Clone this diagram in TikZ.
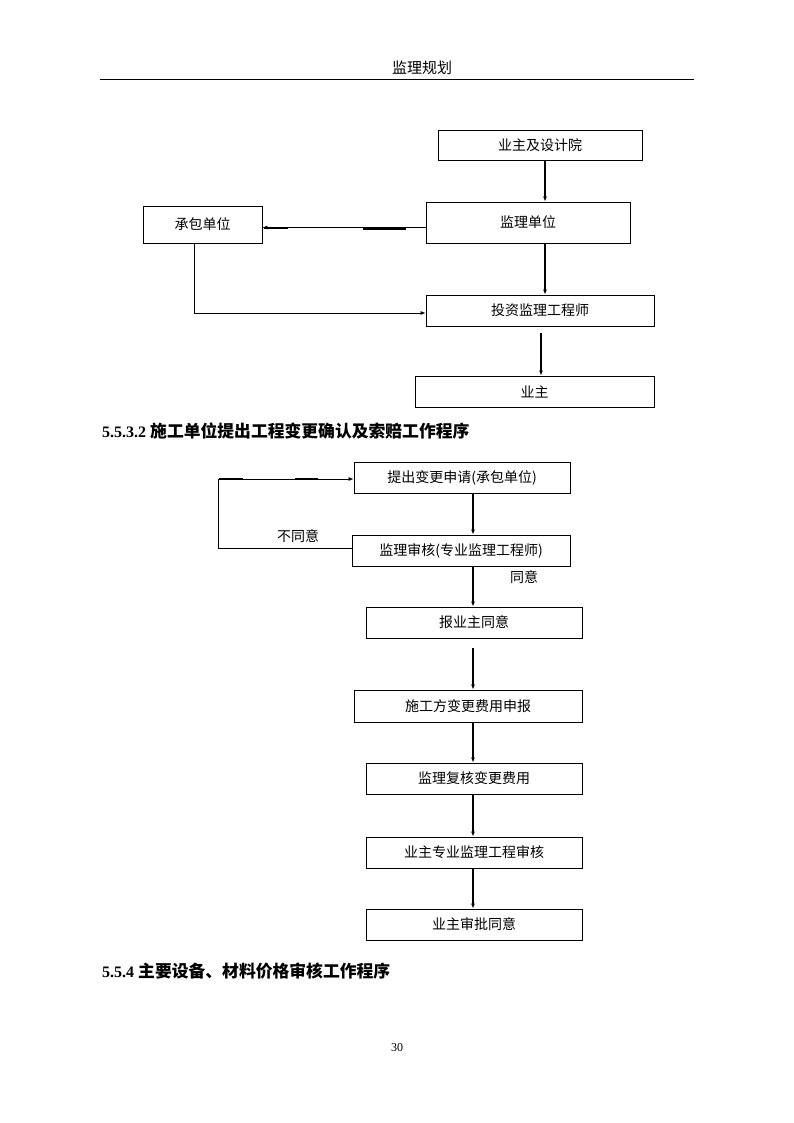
\documentclass[tikz,border=0pt]{standalone}
\usepackage{fontspec}
\setmainfont{Liberation Serif}
\newfontfamily\cjk{Noto Sans CJK SC}
\newfontfamily\cjkb{Noto Sans CJK SC Bold}
\usetikzlibrary{arrows.meta}
\tikzset{
  box/.style={draw, line width=0.8pt, inner sep=0pt, font=\cjk\fontsize{14}{14}\selectfont},
  lbl/.style={inner sep=0pt, font=\cjk\fontsize{14}{14}\selectfont},
  arr/.style={line width=0.8pt, -{Latex[length=5pt,width=4pt]}},
  varr/.style={line width=1.6pt, -{Latex[length=5pt,width=4pt]}},
  thk/.style={line width=1.8pt},
  heading/.style={inner sep=0pt, anchor=west, font=\fontsize{16}{16}\selectfont\bfseries}
}
\begin{document}
\begin{tikzpicture}[x=1pt,y=-1pt]
\useasboundingbox[fill=white] (0,0) rectangle (794,1123);
% header
\node[lbl, font=\cjk\fontsize{15}{15}\selectfont] (hdr) at (422,68) {监理规划};
\coordinate (hl) at (100,79);
\coordinate (hr) at (694,79);
\draw[line width=0.9pt] (hl) -- (hr);

% ---- top diagram
\node[box, minimum width=204pt, minimum height=30pt] (a) at (540,145) {业主及设计院};
\node[box, minimum width=204pt, minimum height=41pt] (b) at (528,222.5) {监理单位};
\node[box, minimum width=119pt, minimum height=37pt] (c) at (202.5,224.5) {承包单位};
\node[box, minimum width=228pt, minimum height=31pt] (d) at (540,310.5) {投资监理工程师};
\node[box, minimum width=239pt, minimum height=31pt] (e) at (534.5,391.5) {业主};

\draw[varr] ([xshift=5pt]a.south) -- ([xshift=17pt]b.north);
\draw[varr] ([xshift=17pt]b.south) -- ([xshift=5pt]d.north);
\draw[varr] ([xshift=1pt,yshift=-7pt]d.south) -- ([xshift=6.5pt]e.north);
\draw[arr] ([yshift=-5pt]b.west) -- ([yshift=-3pt]c.east);
\draw[thk] (363,229) -- (406,229);
\draw[thk] (264,228) -- (288,228);
\coordinate (cb) at (194,243);
\draw[arr] (cb) |- ([yshift=-2.5pt]d.west);

% ---- heading 1
\node[heading] (h1) at (102,431) {5.5.3.2 {\cjkb\fontsize{16.8}{16.8}\selectfont 施工单位提出工程变更确认及索赔工作程序}};

% ---- second diagram
\node[box, minimum width=216pt, minimum height=31pt] (p1) at (462,477.5) {提出变更申请(承包单位)};
\node[box, minimum width=218pt, minimum height=31pt] (p2) at (461,550.5) {监理审核(专业监理工程师)};
\node[box, minimum width=216pt, minimum height=31pt] (p3) at (474,622.5) {报业主同意};
\node[box, minimum width=228pt, minimum height=32pt] (p4) at (468,706) {施工方变更费用申报};
\node[box, minimum width=216pt, minimum height=31pt] (p5) at (474,778.5) {监理复核变更费用};
\node[box, minimum width=216pt, minimum height=31pt] (p6) at (474,852.5) {业主专业监理工程审核};
\node[box, minimum width=216pt, minimum height=31pt] (p7) at (474,924.5) {业主审批同意};

\draw[varr] ([xshift=11pt]p1.south) -- ([xshift=12pt]p2.north);
\draw[varr] ([xshift=12pt]p2.south) -- ([xshift=-1pt]p3.north);
\draw[varr] ([xshift=-1pt,yshift=-10pt]p3.south) -- ([xshift=5pt]p4.north);
\draw[varr] ([xshift=5pt]p4.south) -- ([xshift=-1pt]p5.north);
\draw[varr] ([xshift=-1pt]p5.south) -- ([xshift=-1pt]p6.north);
\draw[varr] ([xshift=-1pt]p6.south) -- ([xshift=-1pt]p7.north);

\coordinate (lp) at (218,548);
\draw[arr] ([yshift=2.5pt]p2.west) -- ([yshift=2.5pt]p2.west -| lp) |- ([yshift=-1.5pt]p1.west);
\draw[thk] (219,479) -- (243,479);
\draw[thk] (295,479) -- (318,479);

\node[lbl] (n1) at (298,536) {不同意};
\node[lbl] (n2) at (524,577) {同意};

% ---- heading 2
\node[heading] (h2) at (102,971) {5.5.4 {\cjkb\fontsize{16.8}{16.8}\selectfont 主要设备、材料价格审核工作程序}};

% page number
\node[inner sep=0pt, font=\fontsize{12}{12}\selectfont] (pg) at (397,1048) {30};
\end{tikzpicture}
\end{document}
